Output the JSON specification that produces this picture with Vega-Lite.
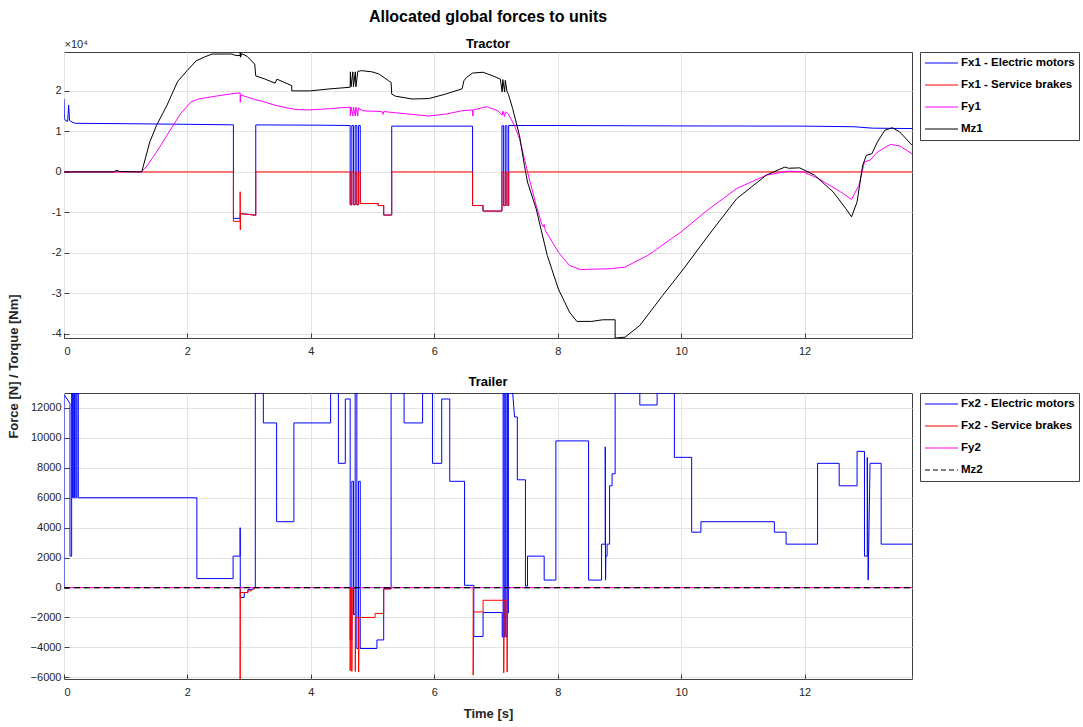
{
  "$schema": "https://vega.github.io/schema/vega-lite/v6.json",
  "padding": {"left": 6, "top": 8, "right": 0, "bottom": 0},
  "background": "white",
  "bounds": "flush",
  "spacing": 55,
  "datasets": {
    "fx1": [
      {"t":0,"v":18000},{"t":0.005,"v":13200},{"t":0.03,"v":12600},{"t":0.06,"v":12500},{"t":0.075,"v":16500},{"t":0.09,"v":12700},{"t":0.13,"v":12300},{"t":0.18,"v":12000},{"t":1.0,"v":11900},{"t":2.0,"v":11750},{"t":2.745,"v":11620},{"t":2.745,"v":-11470},{"t":2.854,"v":-11470},{"t":2.854,"v":-10300},{"t":3.0,"v":-10500},{"t":3.107,"v":-10700},{"t":3.107,"v":11600},{"t":4.0,"v":11550},{"t":4.637,"v":11460},
      {"t":4.637,"v":-8100},{"t":4.664,"v":-8100},{"t":4.664,"v":11460},{"t":4.691,"v":11460},{"t":4.691,"v":-8100},{"t":4.718,"v":-8100},{"t":4.718,"v":11460},{"t":4.745,"v":11460},{"t":4.745,"v":-8100},{"t":4.772,"v":-8100},{"t":4.772,"v":11460},{"t":4.8,"v":11460},{"t":4.8,"v":-7800},
      {"t":5.09,"v":-7800},{"t":5.09,"v":-8300},{"t":5.18,"v":-8300},{"t":5.18,"v":-10650},{"t":5.31,"v":-10650},{"t":5.31,"v":11300},{"t":6.0,"v":11300},{"t":6.62,"v":11300},{"t":6.62,"v":-8300},{"t":6.79,"v":-8300},{"t":6.79,"v":-9670},{"t":7.096,"v":-9670},
      {"t":7.096,"v":11400},{"t":7.123,"v":11400},{"t":7.123,"v":-8300},{"t":7.15,"v":-8300},{"t":7.15,"v":11400},{"t":7.177,"v":11400},{"t":7.177,"v":-8300},{"t":7.205,"v":-8300},{"t":7.205,"v":11450},{"t":8.0,"v":11450},{"t":10.0,"v":11350},{"t":12.0,"v":11300},{"t":12.8,"v":11150},{"t":13.1,"v":10800},{"t":13.74,"v":10700}
    ],
    "fb1": [
      {"t":0,"v":0},{"t":2.745,"v":0},{"t":2.745,"v":-12200},{"t":2.854,"v":-12200},{"t":2.854,"v":-4900},{"t":2.857,"v":-14300},{"t":2.86,"v":-10300},{"t":3.0,"v":-10500},{"t":3.107,"v":-10700},{"t":3.107,"v":0},
      {"t":4.637,"v":0},{"t":4.637,"v":-8100},{"t":4.664,"v":-8100},{"t":4.664,"v":0},{"t":4.691,"v":0},{"t":4.691,"v":-8100},{"t":4.718,"v":-8100},{"t":4.718,"v":0},{"t":4.745,"v":0},{"t":4.745,"v":-8100},{"t":4.772,"v":-8100},{"t":4.772,"v":0},{"t":4.8,"v":0},{"t":4.8,"v":-7800},
      {"t":5.09,"v":-7800},{"t":5.09,"v":-8300},{"t":5.18,"v":-8300},{"t":5.18,"v":-10650},{"t":5.31,"v":-10650},{"t":5.31,"v":0},{"t":6.62,"v":0},{"t":6.62,"v":-8300},{"t":6.79,"v":-8300},{"t":6.79,"v":-9670},{"t":7.096,"v":-9670},
      {"t":7.096,"v":0},{"t":7.123,"v":0},{"t":7.123,"v":-8300},{"t":7.15,"v":-8300},{"t":7.15,"v":0},{"t":7.177,"v":0},{"t":7.177,"v":-8300},{"t":7.205,"v":-8300},{"t":7.205,"v":0},{"t":13.74,"v":0}
    ],
    "fy1": [
      {"t":0,"v":0},{"t":1.25,"v":0},{"t":1.33,"v":1200},{"t":1.5,"v":4900},{"t":1.72,"v":10300},{"t":1.89,"v":14400},{"t":2.06,"v":17300},{"t":2.18,"v":18000},{"t":2.5,"v":18800},{"t":2.77,"v":19400},{"t":2.854,"v":19500},{"t":2.856,"v":17200},{"t":2.86,"v":19000},{"t":3.107,"v":17800},{"t":3.2,"v":17500},{"t":3.43,"v":16400},{"t":3.75,"v":15400},{"t":3.97,"v":15300},{"t":4.3,"v":15600},{"t":4.637,"v":16000},
      {"t":4.64,"v":13800},{"t":4.65,"v":16000},{"t":4.68,"v":13800},{"t":4.69,"v":16000},{"t":4.72,"v":13800},{"t":4.73,"v":16000},{"t":4.76,"v":13800},{"t":4.77,"v":15800},{"t":4.83,"v":15100},{"t":5.15,"v":14900},{"t":5.17,"v":14200},{"t":5.18,"v":14900},{"t":5.37,"v":14600},{"t":5.91,"v":13800},{"t":6.2,"v":14300},{"t":6.45,"v":15100},{"t":6.62,"v":15300},{"t":6.625,"v":13800},{"t":6.63,"v":15300},{"t":6.85,"v":16100},{"t":7.03,"v":15100},{"t":7.1,"v":14000},{"t":7.11,"v":15000},{"t":7.14,"v":13700},{"t":7.15,"v":14800},{"t":7.2,"v":14300},
      {"t":7.3,"v":11400},{"t":7.38,"v":8200},{"t":7.46,"v":3300},{"t":7.53,"v":-1200},{"t":7.65,"v":-8200},{"t":7.74,"v":-12800},{"t":7.77,"v":-13600},{"t":7.78,"v":-13000},{"t":7.8,"v":-14500},{"t":8.01,"v":-19800},{"t":8.19,"v":-23100},{"t":8.37,"v":-24100},{"t":8.85,"v":-23900},{"t":9.09,"v":-23500},{"t":9.46,"v":-20600},{"t":10.0,"v":-14800},{"t":10.42,"v":-9500},{"t":10.9,"v":-4100},{"t":11.38,"v":-800},{"t":11.74,"v":200},{"t":11.98,"v":0},{"t":12.22,"v":-1600},{"t":12.58,"v":-4900},{"t":12.76,"v":-6800},{"t":12.88,"v":-3300},{"t":12.97,"v":2500},{"t":13.06,"v":2900},{"t":13.18,"v":4900},{"t":13.39,"v":6800},{"t":13.54,"v":6400},{"t":13.74,"v":4500}
    ],
    "mz1": [
      {"t":0,"v":0},{"t":0.8,"v":0},{"t":0.86,"v":400},{"t":0.9,"v":100},{"t":1.26,"v":0},{"t":1.39,"v":7400},{"t":1.5,"v":11500},{"t":1.67,"v":16500},{"t":1.84,"v":22300},{"t":2.0,"v":25100},{"t":2.14,"v":27400},{"t":2.28,"v":28400},{"t":2.4,"v":29100},{"t":2.72,"v":29100},{"t":2.77,"v":28800},{"t":2.854,"v":28700},{"t":2.856,"v":29600},{"t":2.86,"v":28300},{"t":2.88,"v":29200},{"t":2.97,"v":28500},{"t":3.09,"v":26600},{"t":3.107,"v":23700},{"t":3.26,"v":22900},{"t":3.42,"v":21900},{"t":3.45,"v":22900},{"t":3.69,"v":21300},{"t":3.69,"v":20000},{"t":3.99,"v":20000},{"t":4.31,"v":20500},{"t":4.637,"v":20900},
      {"t":4.64,"v":24700},{"t":4.65,"v":21000},{"t":4.68,"v":24700},{"t":4.69,"v":21000},{"t":4.72,"v":24700},{"t":4.73,"v":21000},{"t":4.76,"v":24800},{"t":4.82,"v":25000},{"t":4.99,"v":24700},{"t":5.1,"v":24200},{"t":5.26,"v":22500},{"t":5.3,"v":22100},{"t":5.31,"v":19200},{"t":5.37,"v":18700},{"t":5.64,"v":18000},{"t":5.91,"v":18100},{"t":6.18,"v":19200},{"t":6.45,"v":20500},{"t":6.48,"v":22500},{"t":6.52,"v":23300},{"t":6.62,"v":24400},{"t":6.79,"v":24600},{"t":6.95,"v":23700},{"t":7.07,"v":22900},{"t":7.1,"v":19700},{"t":7.11,"v":22800},{"t":7.14,"v":19700},{"t":7.15,"v":22600},{"t":7.18,"v":19700},{"t":7.2,"v":19200},
      {"t":7.27,"v":15600},{"t":7.38,"v":9000},{"t":7.46,"v":1600},{"t":7.51,"v":-2500},{"t":7.65,"v":-9100},{"t":7.83,"v":-20600},{"t":8.01,"v":-28900},{"t":8.19,"v":-34600},{"t":8.31,"v":-36900},{"t":8.55,"v":-36900},{"t":8.73,"v":-36500},{"t":8.93,"v":-36500},{"t":8.93,"v":-41000},{"t":9.09,"v":-40800},{"t":9.33,"v":-37900},{"t":9.7,"v":-30500},{"t":10.06,"v":-23500},{"t":10.42,"v":-16100},{"t":10.9,"v":-6600},{"t":11.38,"v":-800},{"t":11.68,"v":1200},{"t":11.74,"v":900},{"t":11.92,"v":1000},{"t":12.16,"v":-800},{"t":12.46,"v":-4900},{"t":12.67,"v":-9100},{"t":12.76,"v":-11100},{"t":12.85,"v":-7400},{"t":12.94,"v":1600},{"t":13.0,"v":4100},{"t":13.09,"v":4500},{"t":13.18,"v":7400},{"t":13.3,"v":10300},{"t":13.42,"v":10900},{"t":13.54,"v":9900},{"t":13.74,"v":6600}
    ],
    "fx2": [
      {"t":0,"v":0},{"t":0,"v":12900},{"t":0.097,"v":12300},{"t":0.097,"v":2100},{"t":0.124,"v":2100},{"t":0.124,"v":13000},{"t":0.14,"v":13000},{"t":0.14,"v":6000},{"t":0.151,"v":6000},{"t":0.151,"v":13000},{"t":0.168,"v":13000},{"t":0.168,"v":6000},{"t":0.178,"v":6000},{"t":0.178,"v":13000},{"t":0.195,"v":13000},{"t":0.195,"v":6000},{"t":0.211,"v":6000},{"t":0.211,"v":13000},{"t":0.232,"v":13000},{"t":0.232,"v":6000},
      {"t":2.153,"v":6000},{"t":2.153,"v":600},{"t":2.74,"v":600},{"t":2.74,"v":2100},{"t":2.854,"v":2100},{"t":2.854,"v":4000},{"t":2.857,"v":-667},{"t":2.92,"v":-667},{"t":2.92,"v":-333},{"t":2.98,"v":-333},{"t":2.98,"v":-133},{"t":3.04,"v":-133},{"t":3.1,"v":0},{"t":3.1,"v":13000},{"t":3.23,"v":13000},{"t":3.23,"v":11000},{"t":3.445,"v":11000},{"t":3.445,"v":4400},{"t":3.725,"v":4400},{"t":3.725,"v":11000},{"t":4.32,"v":11000},{"t":4.32,"v":13000},{"t":4.446,"v":13000},{"t":4.446,"v":8300},{"t":4.558,"v":8300},{"t":4.558,"v":12600},{"t":4.637,"v":12600},
      {"t":4.637,"v":-3500},{"t":4.664,"v":-3500},{"t":4.664,"v":7100},{"t":4.691,"v":7100},{"t":4.691,"v":-1800},{"t":4.718,"v":-1800},{"t":4.718,"v":13000},{"t":4.745,"v":13000},{"t":4.745,"v":-4070},{"t":4.772,"v":-4070},{"t":4.772,"v":7100},{"t":4.8,"v":7100},{"t":4.8,"v":-4070},
      {"t":5.07,"v":-4070},{"t":5.07,"v":-3500},{"t":5.18,"v":-3500},{"t":5.18,"v":-67},{"t":5.3,"v":-67},{"t":5.3,"v":13000},{"t":5.51,"v":13000},{"t":5.51,"v":11000},{"t":5.81,"v":11000},{"t":5.81,"v":13000},{"t":5.97,"v":13000},{"t":5.97,"v":8300},{"t":6.12,"v":8300},{"t":6.12,"v":12600},{"t":6.25,"v":12600},{"t":6.25,"v":7100},{"t":6.49,"v":7100},{"t":6.49,"v":150},{"t":6.64,"v":150},{"t":6.64,"v":-3270},{"t":6.79,"v":-3270},{"t":6.79,"v":-1670},{"t":7.1,"v":-1670},
      {"t":7.1,"v":-3300},{"t":7.115,"v":-3300},{"t":7.115,"v":13000},{"t":7.13,"v":13000},{"t":7.13,"v":-3300},{"t":7.145,"v":-3300},{"t":7.145,"v":13000},{"t":7.16,"v":13000},{"t":7.16,"v":-3300},{"t":7.18,"v":-3300},{"t":7.18,"v":13000},{"t":7.19,"v":13000},{"t":7.19,"v":-1700},{"t":7.2,"v":-1700},{"t":7.2,"v":13000},
      {"t":7.27,"v":13000},{"t":7.285,"v":12200},{"t":7.3,"v":11400},{"t":7.345,"v":11400},{"t":7.345,"v":7200},{"t":7.477,"v":7200},{"t":7.477,"v":100},{"t":7.51,"v":100},{"t":7.51,"v":2100},{"t":7.78,"v":2100},{"t":7.78,"v":500},{"t":7.97,"v":500},{"t":7.97,"v":9800},{"t":8.5,"v":9800},{"t":8.5,"v":500},{"t":8.71,"v":500},{"t":8.71,"v":2900},{"t":8.77,"v":2900},{"t":8.77,"v":9400},{"t":8.775,"v":500},{"t":8.78,"v":2100},{"t":8.8,"v":2100},{"t":8.8,"v":2900},{"t":8.84,"v":2900},{"t":8.84,"v":6800},{"t":8.88,"v":6800},{"t":8.88,"v":7600},{"t":8.93,"v":7600},{"t":8.93,"v":13000},
      {"t":9.33,"v":13000},{"t":9.33,"v":12200},{"t":9.61,"v":12200},{"t":9.61,"v":13000},{"t":9.89,"v":13000},{"t":9.89,"v":8700},{"t":10.17,"v":8700},{"t":10.17,"v":3700},{"t":10.32,"v":3700},{"t":10.32,"v":4400},{"t":11.51,"v":4400},{"t":11.51,"v":3700},{"t":11.7,"v":3700},{"t":11.7,"v":2900},{"t":12.21,"v":2900},{"t":12.21,"v":8300},{"t":12.56,"v":8300},{"t":12.56,"v":6800},{"t":12.85,"v":6800},{"t":12.85,"v":9100},{"t":12.97,"v":9100},{"t":12.97,"v":2100},{"t":13.015,"v":2100},{"t":13.015,"v":8700},{"t":13.03,"v":500},{"t":13.06,"v":8300},{"t":13.24,"v":8300},{"t":13.24,"v":2900},{"t":13.74,"v":2900}
    ],
    "fb2": [
      {"t":0,"v":0},{"t":2.854,"v":0},{"t":2.854,"v":-6100},{"t":2.857,"v":-333},{"t":2.98,"v":-333},{"t":2.98,"v":-222},{"t":3.04,"v":-222},{"t":3.04,"v":-111},{"t":3.08,"v":-111},{"t":3.08,"v":0},
      {"t":4.637,"v":0},{"t":4.637,"v":-5560},{"t":4.642,"v":0},{"t":4.664,"v":0},{"t":4.664,"v":-5600},{"t":4.669,"v":0},{"t":4.72,"v":0},{"t":4.72,"v":-5600},{"t":4.725,"v":-2000},{"t":4.774,"v":-2000},{"t":4.774,"v":-5650},{"t":4.779,"v":-2000},{"t":5.04,"v":-2000},{"t":5.04,"v":-1730},{"t":5.18,"v":-1730},{"t":5.18,"v":-100},{"t":5.3,"v":-100},{"t":5.3,"v":0},
      {"t":6.63,"v":0},{"t":6.63,"v":-5850},{"t":6.635,"v":-1630},{"t":6.79,"v":-1630},{"t":6.79,"v":-850},{"t":7.125,"v":-850},{"t":7.125,"v":-5700},{"t":7.13,"v":-850},{"t":7.18,"v":-850},{"t":7.18,"v":-5650},{"t":7.185,"v":0},{"t":13.74,"v":0}
    ],
    "fy2": [{"t":0,"v":0},{"t":13.74,"v":0}],
    "mz2": [{"t":0,"v":0},{"t":13.74,"v":0}]
  },
  "vconcat": [
    {
      "width": 848,
      "height": 286,
      "title": {
        "text": "Allocated global forces to units",
        "subtitle": "Tractor",
        "anchor": "middle",
        "frame": "group",
        "font": "Liberation Sans",
        "fontSize": 16,
        "fontWeight": "bold",
        "color": "#000000",
        "subtitleFont": "Liberation Sans",
        "subtitleFontSize": 13,
        "subtitleFontWeight": "bold",
        "subtitleColor": "#000000",
        "subtitlePadding": 13.5,
        "offset": -13
      },
      "encoding": {
        "x": {"field": "t", "type": "quantitative", "scale": {"domain": [0, 13.74], "nice": false, "zero": false},
              "axis": {"values": [0, 2, 4, 6, 8, 10, 12], "title": null, "grid": true, "labelPadding": 12}},
        "y": {"field": "v", "type": "quantitative", "scale": {"domain": [-41000, 29600], "nice": false, "zero": false},
              "axis": {"values": [-40000, -30000, -20000, -10000, 0, 10000, 20000], "labelExpr": "datum.value / 10000", "grid": true,
                       "title": "×10⁴", "titleAngle": 0, "titleX": 0, "titleY": -3, "titleAlign": "left", "titleBaseline": "bottom",
                       "titleFontWeight": "normal", "titleFontSize": 11, "titleColor": "#262626"}}
      },
      "layer": [
        {"data": {"name": "fx1"}, "mark": {"type": "line", "strokeWidth": 1, "clip": true},
         "encoding": {"color": {"datum": "Fx1 - Electric motors", "type": "nominal",
           "scale": {"domain": ["Fx1 - Electric motors", "Fx1 - Service brakes", "Fy1", "Mz1"], "range": ["#0000ff", "#ff0000", "#ff00ff", "#000000"]},
           "legend": {"title": null}}}},
        {"data": {"name": "fb1"}, "mark": {"type": "line", "strokeWidth": 1, "clip": true},
         "encoding": {"color": {"datum": "Fx1 - Service brakes", "type": "nominal"}}},
        {"data": {"name": "fy1"}, "mark": {"type": "line", "strokeWidth": 1, "clip": true},
         "encoding": {"color": {"datum": "Fy1", "type": "nominal"}}},
        {"data": {"name": "mz1"}, "mark": {"type": "line", "strokeWidth": 1, "clip": true},
         "encoding": {"color": {"datum": "Mz1", "type": "nominal"}}}
      ]
    },
    {
      "width": 848,
      "height": 286,
      "title": {
        "text": "Trailer",
        "anchor": "middle",
        "frame": "group",
        "font": "Liberation Sans",
        "fontSize": 13,
        "fontWeight": "bold",
        "color": "#000000",
        "offset": -95
      },
      "encoding": {
        "x": {"field": "t", "type": "quantitative", "scale": {"domain": [0, 13.74], "nice": false, "zero": false},
              "axis": {"values": [0, 2, 4, 6, 8, 10, 12], "title": "Time [s]", "grid": true, "labelPadding": 12, "titlePadding": 10}},
        "y": {"field": "v", "type": "quantitative", "scale": {"domain": [-6110, 13000], "nice": false, "zero": false},
              "axis": {"values": [-6000, -4000, -2000, 0, 2000, 4000, 6000, 8000, 10000, 12000], "format": "d", "grid": true,
                       "title": "Force [N] / Torque [Nm]", "titleX": -44, "titleY": -27}}
      },
      "layer": [
        {"data": {"name": "fx2"}, "mark": {"type": "line", "strokeWidth": 1, "clip": true},
         "encoding": {"color": {"datum": "Fx2 - Electric motors", "type": "nominal",
           "scale": {"domain": ["Fx2 - Electric motors", "Fx2 - Service brakes", "Fy2", "Mz2"], "range": ["#0000ff", "#ff0000", "#ff00ff", "#000000"]},
           "legend": {"title": null, "encode": {"symbols": {"update": {"strokeDash": {"signal": "datum.label === 'Mz2' ? [5, 3] : [1, 0]"}}}}}}}},
        {"data": {"name": "fb2"}, "mark": {"type": "line", "strokeWidth": 1, "clip": true},
         "encoding": {"color": {"datum": "Fx2 - Service brakes", "type": "nominal"}}},
        {"data": {"name": "fy2"}, "mark": {"type": "line", "strokeWidth": 1, "clip": true},
         "encoding": {"color": {"datum": "Fy2", "type": "nominal"}}},
        {"data": {"name": "mz2"}, "mark": {"type": "line", "strokeWidth": 1.2, "strokeDash": [6, 4], "clip": true},
         "encoding": {"color": {"datum": "Mz2", "type": "nominal"}}}
      ]
    }
  ],
  "resolve": {"scale": {"color": "independent"}, "legend": {"color": "independent"}},
  "config": {
    "font": "Liberation Sans",
    "view": {"stroke": "#404040", "strokeWidth": 1},
    "axis": {
      "labelFont": "Liberation Sans", "labelFontSize": 11, "labelColor": "#262626",
      "gridColor": "#e3e3e3", "gridWidth": 1, "domain": false,
      "tickColor": "#404040", "tickSize": -5, "labelPadding": 8,
      "titleFont": "Liberation Sans", "titleFontSize": 13, "titleFontWeight": "bold", "titleColor": "#262626"
    },
    "legend": {
      "orient": "right", "offset": 8, "padding": 4,
      "strokeColor": "#404040", "fillColor": "white",
      "labelFont": "Liberation Sans", "labelFontSize": 11.5, "labelFontWeight": "bold", "labelColor": "#000000",
      "labelLimit": 300, "labelOffset": 2,
      "symbolType": "stroke", "symbolSize": 1089, "symbolStrokeWidth": 1.2,
      "clipHeight": 14, "rowPadding": 8
    }
  }
}
